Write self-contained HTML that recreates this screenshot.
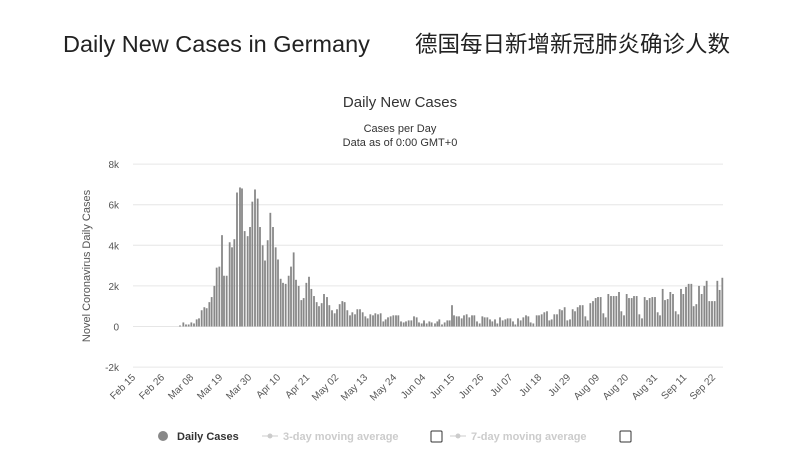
<!DOCTYPE html>
<html><head><meta charset="utf-8"><style>
body{margin:0;width:800px;height:464px;background:#fff;overflow:hidden}
svg{display:block}
</style></head><body>
<svg id="s" width="800" height="464" xmlns="http://www.w3.org/2000/svg" font-family="Liberation Sans, DejaVu Sans, sans-serif">
<text x="63" y="52" font-size="23.5" fill="#222">Daily New Cases in Germany</text>
<text x="415" y="52" font-size="22.5" fill="#222" font-family="Liberation Sans, Noto Sans CJK SC, sans-serif">德国每日新增新冠肺炎确诊人数</text>
<text x="400" y="107" font-size="15" fill="#333" text-anchor="middle">Daily New Cases</text>
<text x="400" y="132" font-size="11" fill="#333" text-anchor="middle">Cases per Day</text>
<text x="400" y="146" font-size="11" fill="#333" text-anchor="middle">Data as of 0:00 GMT+0</text>
<text transform="translate(90,266) rotate(-90)" font-size="11" fill="#555" text-anchor="middle">Novel Coronavirus Daily Cases</text>
<g id="grid" stroke="#e6e6e6" stroke-width="1"></g>
<g id="yl" font-size="10" fill="#555" text-anchor="end"></g>
<g id="bars" fill="#888"></g>
<g id="xl" font-size="10" fill="#555" text-anchor="end"></g>
<circle cx="163" cy="436" r="5" fill="#888"/>
<text x="177" y="440" font-size="11" font-weight="bold" fill="#333">Daily Cases</text>
<line x1="262" y1="436" x2="278" y2="436" stroke="#ccc"/><circle cx="270" cy="436" r="2.5" fill="#ccc"/>
<text x="283" y="440" font-size="11" font-weight="bold" fill="#ccc">3-day moving average</text>
<rect x="431" y="431" width="11" height="11" fill="none" stroke="#333" rx="1"/>
<line x1="450" y1="436" x2="466" y2="436" stroke="#ccc"/><circle cx="458" cy="436" r="2.5" fill="#ccc"/>
<text x="471" y="440" font-size="11" font-weight="bold" fill="#ccc">7-day moving average</text>
<rect x="620" y="431" width="11" height="11" fill="none" stroke="#333" rx="1"/>
</svg>
<script>
var NS="http://www.w3.org/2000/svg";
function el(p,t,a,txt){var e=document.createElementNS(NS,t);for(var k in a)e.setAttribute(k,a[k]);if(txt)e.textContent=txt;document.getElementById(p).appendChild(e);}
var y0=326.5,k=20.3;
[8,6,4,2,0,-2].forEach(function(v){var y=y0-v*k;el("grid","line",{x1:133,x2:723,y1:y,y2:y});el("yl","text",{x:119,y:y+4},v==0?"0":v+"k");});
var labs=["Feb 15","Feb 26","Mar 08","Mar 19","Mar 30","Apr 10","Apr 21","May 02","May 13","May 24","Jun 04","Jun 15","Jun 26","Jul 07","Jul 18","Jul 29","Aug 09","Aug 20","Aug 31","Sep 11","Sep 22"];
labs.forEach(function(l,i){var x=136+i*29;el("xl","text",{transform:"translate("+x+",378) rotate(-45)"},l);});
var a=[240,.05,250,.2,258,.1,266,.1,274,.2,282,.15,290,.35,297,.4,305,.8,313,.95,320,.9,328,1.2,335,1.45,343,2.0,350,2.9,358,2.95,366,4.5,372,2.5,380,2.5,389,4.15,396,3.9,403,4.3,411,6.6,420,6.85,426,6.8,434,4.7,443,4.45,450,4.9,457,6.15,465,6.75,473,6.3,480,4.9,488,4.0,495,3.25,503,4.25,511,5.6,519,4.9,527,3.9,534,3.3,542,2.35,549,2.15,557,2.1,566,2.5,573,2.95,581,3.65,588,2.3,596,2.0,604,1.3,611,1.4,619,2.15,627,2.45,634,1.85,642,1.5,650,1.2,657,1.0,665,1.15,672,1.6,681,1.45,688,1.05,696,.8,704,.65,711,.85,719,1.1,727,1.25,734,1.2,742,.8,750,.55,757,.7,765,.6,772,.85,780,.85,788,.7,796,.5,803,.4,811,.6,819,.55,826,.65,834,.6,842,.65,850,.25,857,.35,864,.45,872,.5,880,.55,888,.55,895,.55,903,.25,911,.2,918,.25,926,.3,934,.3,942,.5,950,.45,957,.2,965,.15,972,.3];
var b=[12,.2,20,.15,28,.25,35,.2,45,.15,52,.25,58,.35,66,.1,74,.2,82,.3,89,.3,96,1.05,102,.55,110,.5,117,.5,125,.4,132,.55,140,.6,148,.45,156,.55,163,.55,171,.25,179,.15,187,.5,194,.45,202,.45,210,.35,217,.25,225,.35,232,.15,240,.45,248,.3,256,.35,263,.4,271,.4,279,.25,286,.1,294,.4,302,.3,310,.45,318,.55,325,.5,332,.2,340,.15,350,.55,357,.55,365,.6,373,.7,381,.75,388,.3,395,.35,403,.6,411,.6,419,.85,426,.8,434,.95,442,.3,450,.35,458,.85,465,.75,473,.95,480,1.05,488,1.05,496,.5,503,.3,511,1.15,519,1.25,527,1.4,534,1.45,542,1.45,550,.65,557,.45,565,1.6,573,1.5,581,1.5,589,1.5,597,1.7,604,.75,612,.55,620,1.6,627,1.4,635,1.4,642,1.5,650,1.5,658,.6,666,.4,674,1.45,681,1.3,689,1.4,697,1.45,705,1.45,713,.7,720,.55,728,1.85,735,1.3,743,1.35,751,1.7,759,1.6,767,.75,775,.6,783,1.85,790,1.6,798,1.95,806,2.1,814,2.1,821,1.0,829,1.1,837,2.0,845,1.6,853,2.0,860,2.25,868,1.25,876,1.25,884,1.25,892,2.25,899,1.8,907,2.4];
function draw(arr,ox){for(var i=0;i<arr.length;i+=2){var x=ox+arr[i]/3,h=arr[i+1]*k;el("bars","rect",{x:x-0.9,y:y0-h,width:1.8,height:h});}}
draw(a,100);draw(b,420);
</script>
</body></html>
